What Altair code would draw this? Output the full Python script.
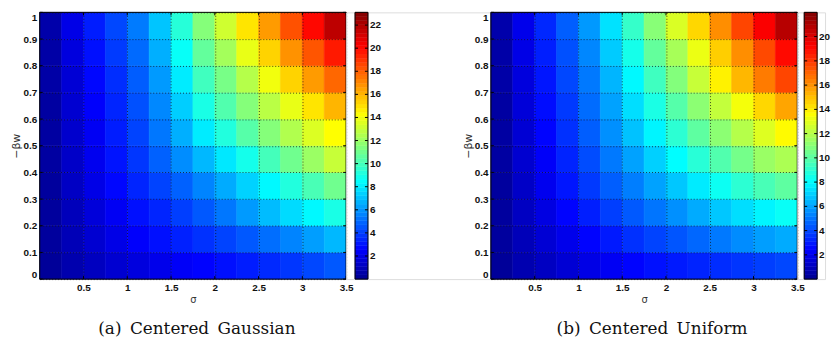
import altair as alt
import pandas as pd

# ---- grid of the two surfaces (cell centres) ----
sigma_centers = [0.125, 0.375, 0.625, 0.875, 1.125, 1.375, 1.625,
                 1.875, 2.125, 2.375, 2.625, 2.875, 3.125, 3.375]
bw_centers = [0.05, 0.15, 0.25, 0.35, 0.45, 0.55, 0.65, 0.75, 0.85, 0.95]
sigma_step = 0.25
bw_step = 0.1

# values, one row per -beta*w (bottom to top)
gauss_values = [
    [0.2, 0.7, 1.1, 1.5, 1.8, 2.1, 2.4, 2.6, 2.9, 3.2, 3.5, 3.8, 4.2, 4.6],
    [0.3, 0.9, 1.5, 2.0, 2.5, 2.9, 3.3, 3.7, 4.1, 4.6, 5.1, 5.6, 6.2, 6.8],
    [0.3, 1.0, 1.7, 2.3, 2.9, 3.4, 4.0, 4.6, 5.3, 6.1, 6.9, 7.6, 8.3, 9.0],
    [0.3, 1.2, 2.0, 2.7, 3.4, 4.1, 4.8, 5.6, 6.5, 7.4, 8.3, 9.2, 10.1, 11.0],
    [0.4, 1.3, 2.2, 3.0, 3.8, 4.8, 5.8, 6.8, 7.9, 8.9, 10.0, 11.0, 12.0, 13.0],
    [0.4, 1.4, 2.3, 3.2, 4.1, 5.3, 6.6, 8.0, 9.2, 10.4, 11.5, 12.5, 13.5, 14.3],
    [0.4, 1.5, 2.5, 3.4, 4.4, 5.7, 7.3, 9.0, 10.3, 11.5, 12.7, 13.8, 14.9, 16.0],
    [0.5, 1.6, 2.7, 3.6, 4.7, 6.1, 8.0, 9.9, 11.2, 12.6, 14.0, 15.3, 16.6, 17.8],
    [0.5, 1.8, 2.9, 3.9, 5.0, 6.6, 8.6, 10.7, 12.2, 13.8, 15.3, 16.8, 18.2, 19.6],
    [0.6, 2.0, 3.2, 4.2, 5.4, 7.1, 9.3, 11.5, 13.2, 14.9, 16.6, 18.3, 20.0, 21.7],
]
uniform_values = [
    [0.2, 0.7, 1.1, 1.5, 1.9, 2.2, 2.5, 2.8, 3.0, 3.2, 3.4, 3.6, 3.8, 4.0],
    [0.3, 0.9, 1.5, 2.0, 2.5, 3.0, 3.5, 3.9, 4.3, 4.7, 5.1, 5.5, 5.9, 6.2],
    [0.3, 1.1, 1.8, 2.5, 3.1, 3.8, 4.4, 5.0, 5.6, 6.2, 6.8, 7.3, 7.8, 8.2],
    [0.3, 1.2, 2.1, 2.9, 3.7, 4.5, 5.2, 6.0, 6.8, 7.6, 8.3, 9.0, 9.6, 10.1],
    [0.4, 1.4, 2.3, 3.2, 4.1, 5.1, 6.0, 7.0, 8.0, 8.9, 9.8, 10.6, 11.4, 11.8],
    [0.4, 1.5, 2.5, 3.5, 4.5, 5.6, 6.7, 7.8, 9.0, 10.1, 11.1, 12.0, 12.9, 13.7],
    [0.4, 1.6, 2.7, 3.7, 4.8, 6.0, 7.3, 8.6, 9.9, 11.1, 12.3, 13.4, 14.5, 15.6],
    [0.5, 1.7, 2.9, 4.0, 5.1, 6.4, 7.9, 9.4, 10.9, 12.4, 13.9, 15.2, 16.5, 17.7],
    [0.5, 1.9, 3.1, 4.2, 5.4, 6.9, 8.5, 10.2, 11.7, 13.2, 14.7, 16.1, 17.6, 19.0],
    [0.6, 2.0, 3.3, 4.5, 5.8, 7.4, 9.2, 11.0, 12.8, 14.5, 16.1, 17.7, 19.3, 20.8],
]

x_ticks = [0.5, 1, 1.5, 2, 2.5, 3, 3.5]
y_ticks = [0, 0.1, 0.2, 0.3, 0.4, 0.5, 0.6, 0.7, 0.8, 0.9, 1]
cbar_ticks_gauss = [2, 4, 6, 8, 10, 12, 14, 16, 18, 20, 22]
cbar_ticks_uniform = [2, 4, 6, 8, 10, 12, 14, 16, 18, 20]
cmax_gauss = 23.1
cmax_uniform = 22.0
captions = ["(a)\u2002Centered\u2002Gaussian", "(b)\u2002Centered\u2002Uniform"]

# MATLAB "jet" colormap stops (fraction of the colour range, colour)
jet_stops = [0.0, 0.111, 0.365, 0.619, 0.873, 1.0]
jet_colors = ["#000090", "#0000FF", "#00FFFF", "#FFFF00", "#FF0000", "#800000"]

PLOT_W = 309
PLOT_H = 269
CB_W = 13
TICK_LEN = 3
LABEL_FONT = "Liberation Sans"


def color_scale(cmax):
    return alt.Scale(domain=[cmax * f for f in jet_stops], range=jet_colors,
                     interpolate="rgb", clamp=True)


def grid_frame(values):
    rows = []
    for j, b in enumerate(bw_centers):
        for i, s in enumerate(sigma_centers):
            rows.append({
                "s0": s - sigma_step / 2, "s1": s + sigma_step / 2,
                "b0": b - bw_step / 2, "b1": b + bw_step / 2,
                "v": values[j][i],
            })
    return pd.DataFrame(rows)


def heat_panel(values, cmax, caption, cap_dx):
    cs = color_scale(cmax)
    xs = alt.Scale(domain=[0, 3.5], nice=False, zero=False)
    ys = alt.Scale(domain=[0, 1], nice=False, zero=False)
    grid_style = dict(grid=True, gridColor="#111", gridDash=[1, 2], gridOpacity=0.75,
                      gridWidth=1, zindex=1, ticks=False, domain=False,
                      labelFont=LABEL_FONT, labelFontWeight="bold", labelFontSize=10,
                      labelColor="#111", titleFont="DejaVu Sans", titleFontWeight="normal",
                      titleColor="#333")
    x_axis = alt.Axis(values=x_ticks, format="~g", title="σ", labelFlush=False,
                      labelPadding=4, titlePadding=2, titleFontSize=10, **grid_style)
    y_axis = alt.Axis(values=y_ticks, format="~g", title="−βw", labelFlush=True,
                      labelPadding=3, titlePadding=1, titleFontSize=11, **grid_style)
    rects = alt.Chart(grid_frame(values)).mark_rect(strokeWidth=0.6).encode(
        x=alt.X("s0:Q", scale=xs, axis=x_axis),
        x2="s1:Q",
        y=alt.Y("b0:Q", scale=ys, axis=y_axis),
        y2="b1:Q",
        color=alt.Color("v:Q", scale=cs, legend=None),
        stroke=alt.Stroke("v:Q", scale=cs, legend=None),
    )
    xt = pd.DataFrame({"t": x_ticks})
    yt = pd.DataFrame({"t": y_ticks})
    x_bottom = alt.Chart(xt).mark_rule(color="black").encode(
        x=alt.X("t:Q", scale=xs, axis=x_axis),
        y=alt.value(PLOT_H), y2=alt.value(PLOT_H - TICK_LEN))
    x_top = alt.Chart(xt).mark_rule(color="black").encode(
        x=alt.X("t:Q", scale=xs, axis=x_axis),
        y=alt.value(0), y2=alt.value(TICK_LEN))
    y_left = alt.Chart(yt).mark_rule(color="black").encode(
        y=alt.Y("t:Q", scale=ys, axis=y_axis),
        x=alt.value(0), x2=alt.value(TICK_LEN))
    y_right = alt.Chart(yt).mark_rule(color="black").encode(
        y=alt.Y("t:Q", scale=ys, axis=y_axis),
        x=alt.value(PLOT_W - TICK_LEN), x2=alt.value(PLOT_W))
    frame = alt.Chart(pd.DataFrame({"f": [0]})).mark_rect(
        fillOpacity=0, stroke="black", strokeWidth=1).encode(
        x=alt.value(0), x2=alt.value(PLOT_W), y=alt.value(0), y2=alt.value(PLOT_H))
    return alt.layer(rects, x_bottom, x_top, y_left, y_right, frame).properties(
        width=PLOT_W, height=PLOT_H,
        title=alt.TitleParams(
            caption, orient="bottom", anchor="middle", frame="group", dx=cap_dx,
            font="DejaVu Serif", fontSize=17, fontWeight="normal", color="#111",
            offset=16))


def cbar_panel(cmax, cticks, gap, view_w):
    cs = color_scale(cmax)
    step = cmax / 64
    ys = alt.Scale(domain=[0, cmax], nice=False, zero=False)
    bands = alt.Chart(alt.sequence(0, cmax - step / 2, step, as_="lv")).transform_calculate(
        lv2=f"datum.lv + {step}", lc=f"datum.lv + {step / 2}"
    ).mark_rect(strokeWidth=0.5).encode(
        y=alt.Y("lv:Q", scale=ys, axis=None), y2="lv2:Q",
        x=alt.value(gap), x2=alt.value(gap + CB_W),
        color=alt.Color("lc:Q", scale=cs, legend=None),
        stroke=alt.Stroke("lc:Q", scale=cs, legend=None),
    )
    td = pd.DataFrame({"t": cticks})
    t_left = alt.Chart(td).mark_rule(color="black").encode(
        y=alt.Y("t:Q", scale=ys, axis=None),
        x=alt.value(gap), x2=alt.value(gap + TICK_LEN))
    t_right = alt.Chart(td).mark_rule(color="black").encode(
        y=alt.Y("t:Q", scale=ys, axis=None),
        x=alt.value(gap + CB_W - TICK_LEN), x2=alt.value(gap + CB_W))
    labels = alt.Chart(td).mark_text(
        align="left", baseline="middle", font=LABEL_FONT, fontWeight="bold",
        fontSize=10, color="#111").encode(
        y=alt.Y("t:Q", scale=ys, axis=None), x=alt.value(gap + CB_W + 2),
        text=alt.Text("t:Q", format="~g"))
    frame = alt.Chart(pd.DataFrame({"f": [0]})).mark_rect(
        fillOpacity=0, stroke="black", strokeWidth=1).encode(
        x=alt.value(gap), x2=alt.value(gap + CB_W), y=alt.value(0), y2=alt.value(PLOT_H))
    return alt.layer(bands, t_left, t_right, labels, frame).properties(
        width=view_w, height=PLOT_H)


chart = alt.hconcat(
    heat_panel(gauss_values, cmax_gauss, captions[0], 4),
    cbar_panel(cmax_gauss, cbar_ticks_gauss, 9, 146),
    heat_panel(uniform_values, cmax_uniform, captions[1], 8),
    cbar_panel(cmax_uniform, cbar_ticks_uniform, 7, 28),
    spacing=0, bounds="flush",
).resolve_scale(
    color="independent", stroke="independent", x="independent", y="independent"
).properties(
    padding={"left": 2, "top": 2, "right": 0, "bottom": 0}
).configure_view(stroke="transparent").configure(background="white")

chart.save("out.html", embed_options={"renderer": "svg", "actions": False})
